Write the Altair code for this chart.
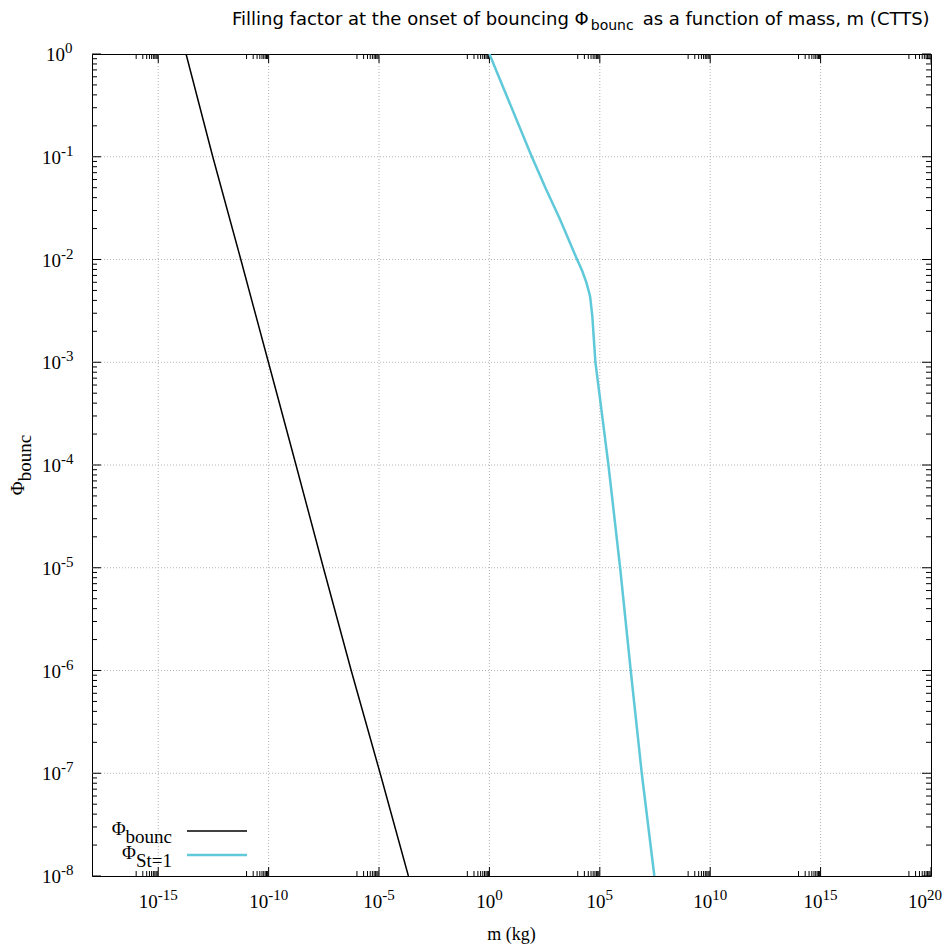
import altair as alt
import pandas as pd

# ---------------- data (log10 values) ----------------
BOUNC_LOG_M = [-13.74, -12.53, -11.26, -10.01, -8.76, -7.52, -6.26, -4.95, -3.67]
BOUNC_LOG_PHI = [0.0, -1.0, -2.0, -3.0, -4.0, -5.0, -6.0, -7.0, -8.0]

STOKES_LOG_M = [0.0, 1.92, 2.53, 3.20, 3.97, 4.20, 4.40, 4.56, 4.66, 4.80, 5.39, 5.92, 6.40, 6.90, 7.47]
STOKES_LOG_PHI = [0.0, -1.0, -1.30, -1.61, -2.0, -2.11, -2.23, -2.36, -2.55, -3.0, -4.0, -5.0, -6.0, -7.0, -8.0]

X_MAJOR_EXP = [-15, -10, -5, 0, 5, 10, 15, 20]
Y_MAJOR_EXP = [0, -1, -2, -3, -4, -5, -6, -7, -8]
X_DOMAIN = [1e-18, 1e20]
Y_DOMAIN = [1e-8, 1.0]

TITLE_MAIN = "Filling factor at the onset of bouncing Φ"
TITLE_SUB = "bounc"
TITLE_REST = "as a function of mass, m (CTTS)"
X_TITLE = "m (kg)"
Y_TITLE_MAIN = "Φ"
Y_TITLE_SUB = "bounc"
LEGEND_MAIN = ["Φ", "Φ"]
LEGEND_SUB = ["bounc", "St=1"]

# ---------------- layout / style ----------------
W, H = 839, 822
SERIF = "Liberation Serif"
SANS = "DejaVu Sans"
CYAN = "#5fc9d9"
GRID = "#b4b4b4"
BASE_SIZE, EXP_SIZE = 19, 15

# approximate advance widths (em) for Liberation Serif
SERIF_W = {"-": 0.333, "b": 0.5, "o": 0.5, "u": 0.5, "n": 0.5, "c": 0.444,
           "S": 0.556, "t": 0.278, "=": 0.564, "Φ": 0.74}


def sw(s, size):
    return sum(SERIF_W.get(c, 0.5) for c in s) * size


xs = alt.Scale(type="log", domain=X_DOMAIN, nice=False)
ys = alt.Scale(type="log", domain=Y_DOMAIN, nice=False)


def xq():
    return alt.X("m:Q", scale=xs, axis=None)


def yq():
    return alt.Y("phi:Q", scale=ys, axis=None)


def txt(s, x, y, size, font, align="left", angle=0):
    return alt.Chart(pd.DataFrame({"t": [s]})).mark_text(
        align=align, baseline="alphabetic", font=font, fontSize=size,
        color="black", angle=angle
    ).encode(x=alt.value(x), y=alt.value(y), text="t:N")


layers = []

# grid
gx = pd.DataFrame({"m": [10.0 ** e for e in X_MAJOR_EXP[:-1]]})
layers.append(alt.Chart(gx).mark_rule(color=GRID, strokeWidth=1, strokeDash=[1, 2]).encode(
    x=xq(), y=alt.value(0), y2=alt.value(H)))
gy = pd.DataFrame({"phi": [10.0 ** e for e in Y_MAJOR_EXP[1:-1]]})
layers.append(alt.Chart(gy).mark_rule(color=GRID, strokeWidth=1, strokeDash=[1, 2]).encode(
    y=yq(), x=alt.value(0), x2=alt.value(W)))

# ticks (inward, mirrored)
xmin = pd.DataFrame({"m": [k * 10.0 ** (e - 1) for e in X_MAJOR_EXP for k in range(1, 10)]})
xmaj = pd.DataFrame({"m": [10.0 ** e for e in X_MAJOR_EXP]})
for df, L in [(xmin, 5), (xmaj, 9)]:
    layers.append(alt.Chart(df).mark_rule(color="black", strokeWidth=1).encode(
        x=xq(), y=alt.value(H), y2=alt.value(H - L)))
    layers.append(alt.Chart(df).mark_rule(color="black", strokeWidth=1).encode(
        x=xq(), y=alt.value(0), y2=alt.value(L)))
ymin = pd.DataFrame({"phi": [k * 10.0 ** e for e in Y_MAJOR_EXP[1:] for k in range(2, 10)]})
ymaj = pd.DataFrame({"phi": [10.0 ** e for e in Y_MAJOR_EXP]})
for df, L in [(ymin, 5), (ymaj, 9)]:
    layers.append(alt.Chart(df).mark_rule(color="black", strokeWidth=1).encode(
        y=yq(), x=alt.value(0), x2=alt.value(L)))
    layers.append(alt.Chart(df).mark_rule(color="black", strokeWidth=1).encode(
        y=yq(), x=alt.value(W), x2=alt.value(W - L)))

# curves
bounc = pd.DataFrame({"m": [10.0 ** v for v in BOUNC_LOG_M], "phi": [10.0 ** v for v in BOUNC_LOG_PHI]})
stokes = pd.DataFrame({"m": [10.0 ** v for v in STOKES_LOG_M], "phi": [10.0 ** v for v in STOKES_LOG_PHI]})
layers.append(alt.Chart(bounc).mark_line(color="black", strokeWidth=1.5, clip=True).encode(x=xq(), y=yq()))
layers.append(alt.Chart(stokes).mark_line(color=CYAN, strokeWidth=2.5, clip=True).encode(x=xq(), y=yq()))

# x tick labels: "10" + superscript exponent, centred as a whole on the tick
groups = {}
for e in X_MAJOR_EXP:
    s = str(e)
    total = sw("10", BASE_SIZE) + sw(s, EXP_SIZE)
    dx = round(sw("10", BASE_SIZE) - total / 2, 1)
    if e == X_MAJOR_EXP[-1]:
        dx -= 6  # keep the last label inside the page edge
    groups.setdefault(dx, []).append(e)
for dx, es in groups.items():
    df = pd.DataFrame({"m": [10.0 ** e for e in es], "base": ["10"] * len(es), "exp": [str(e) for e in es]})
    layers.append(alt.Chart(df).mark_text(align="right", baseline="alphabetic", font=SERIF,
                                          fontSize=BASE_SIZE, dx=dx, color="black").encode(
        x=xq(), y=alt.value(H + 32), text="base:N"))
    layers.append(alt.Chart(df).mark_text(align="left", baseline="alphabetic", font=SERIF,
                                          fontSize=EXP_SIZE, dx=dx, color="black").encode(
        x=xq(), y=alt.value(H + 24), text="exp:N"))

# y tick labels
for es, anchor in [([e for e in Y_MAJOR_EXP if e == 0], -27), ([e for e in Y_MAJOR_EXP if e != 0], -31)]:
    df = pd.DataFrame({"phi": [10.0 ** e for e in es], "base": ["10"] * len(es), "exp": [str(e) for e in es]})
    layers.append(alt.Chart(df).mark_text(align="right", baseline="alphabetic", font=SERIF,
                                          fontSize=BASE_SIZE, dy=7, color="black").encode(
        y=yq(), x=alt.value(anchor), text="base:N"))
    layers.append(alt.Chart(df).mark_text(align="left", baseline="alphabetic", font=SERIF,
                                          fontSize=EXP_SIZE, dy=-1, color="black").encode(
        y=yq(), x=alt.value(anchor), text="exp:N"))

# title (sans, with subscript)
T_X, T_Y = 140, -29
T_SIZE, T_SUB = 18, 14
w_main = 19.93 * T_SIZE
w_sub = 3.065 * T_SUB
layers.append(txt(TITLE_MAIN, T_X, T_Y, T_SIZE, SANS))
layers.append(txt(TITLE_SUB, T_X + w_main, T_Y + 5, T_SUB, SANS))
layers.append(txt(TITLE_REST, T_X + w_main + w_sub + 9, T_Y, T_SIZE, SANS))

# x axis title
layers.append(txt(X_TITLE, W / 2, H + 64, 18, SERIF, align="center"))

# y axis title (rotated, with subscript)
YT_SIZE = 19
yt_total = sw(Y_TITLE_MAIN, YT_SIZE) + sw(Y_TITLE_SUB, YT_SIZE)
yt_start = H / 2 + yt_total / 2
layers.append(txt(Y_TITLE_MAIN, -68, yt_start, YT_SIZE, SERIF, angle=270))
layers.append(txt(Y_TITLE_SUB, -61, yt_start - sw(Y_TITLE_MAIN, YT_SIZE), YT_SIZE, SERIF, angle=270))

# legend (bottom-left inside the plot)
LG_SIZE = 19
LG_RIGHT = 80
rows = [(777, "black", 1.5), (801, CYAN, 2.5)]
for (ly, col, lw), mtxt, stxt in zip(rows, LEGEND_MAIN, LEGEND_SUB):
    layers.append(txt(stxt, LG_RIGHT, ly + 12, LG_SIZE, SERIF, align="right"))
    layers.append(txt(mtxt, LG_RIGHT - sw(stxt, LG_SIZE), ly + 4, LG_SIZE, SERIF, align="right"))
    layers.append(alt.Chart(pd.DataFrame({"a": [0]})).mark_rule(color=col, strokeWidth=lw).encode(
        x=alt.value(95), x2=alt.value(155), y=alt.value(ly)))

chart = alt.layer(*layers).properties(
    width=W, height=H,
    autosize=alt.AutoSizeParams(type="none"),
    padding={"left": 84, "top": 46, "right": 12, "bottom": 68},
).configure_view(stroke="black", strokeWidth=1)

chart.save("out.html", embed_options={"renderer": "svg", "actions": False})
